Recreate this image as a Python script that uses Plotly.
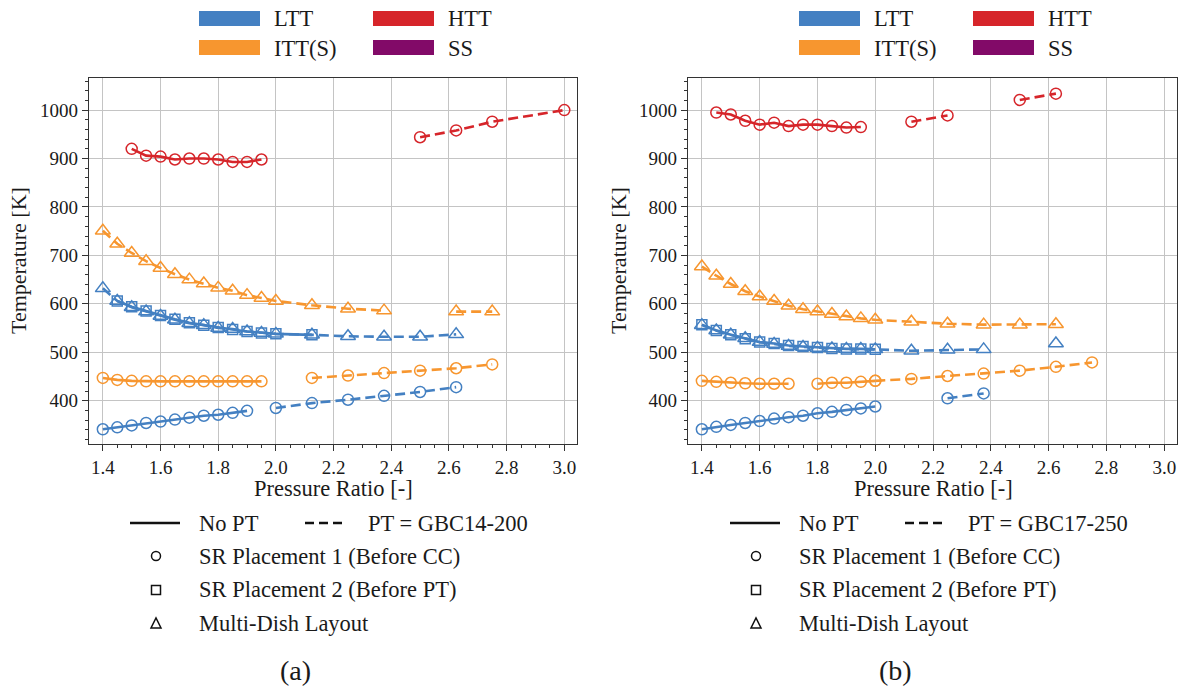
import plotly.graph_objects as go

W, H = 1181, 691
BLUE = '#4480C2'
RED = '#D6252A'
ORANGE = '#F7962F'
PURPLE = '#820A68'
FONT = '"Liberation Serif", "Times New Roman", "DejaVu Serif", serif'

# ---------------- data : panel (a)  PT = GBC14-200 ----------------
a_htt_solid_x = [1.5, 1.55, 1.6, 1.65, 1.7, 1.75, 1.8, 1.85, 1.9, 1.95]
a_htt_solid_y = [920, 906, 904, 898, 900, 900, 898, 893, 893, 898]
a_htt_dash_x = [2.5, 2.625, 2.75, 3.0]
a_htt_dash_y = [944, 958, 976, 1000]

a_itt_tri_x = [1.4, 1.45, 1.5, 1.55, 1.6, 1.65, 1.7, 1.75, 1.8, 1.85, 1.9, 1.95, 2.0,
               2.125, 2.25, 2.375, 2.5, 2.625, 2.75]
a_itt_tri_y = [751, 724, 705, 688, 674, 661, 650, 642, 633, 627, 618, 612, 606,
               597, 590, 586, None, 584, 584]

a_ltt_tri_x = [1.4, 1.45, 1.5, 1.55, 1.6, 1.65, 1.7, 1.75, 1.8, 1.85, 1.9, 1.95, 2.0,
               2.125, 2.25, 2.375, 2.5, 2.625]
a_ltt_tri_y = [632, 606, 593, 584, 575, 567, 560, 556, 550, 548, 543, 540, 538,
               536, 533, 532, 532, 537]
a_ltt_sq_x = [1.45, 1.5, 1.55, 1.6, 1.65, 1.7, 1.75, 1.8, 1.85, 1.9, 1.95, 2.0, 2.125]
a_ltt_sq_y = [606, 594, 585, 576, 568, 561, 556, 551, 547, 543, 540, 538, 536]

a_itt_circ_solid_x = [1.4, 1.45, 1.5, 1.55, 1.6, 1.65, 1.7, 1.75, 1.8, 1.85, 1.9, 1.95]
a_itt_circ_solid_y = [447, 443, 441, 440, 440, 440, 440, 440, 440, 440, 440, 440]
a_itt_circ_dash_x = [2.125, 2.25, 2.375, 2.5, 2.625, 2.75]
a_itt_circ_dash_y = [447, 452, 457, 462, 467, 475]

a_ltt_circ_solid_x = [1.4, 1.45, 1.5, 1.55, 1.6, 1.65, 1.7, 1.75, 1.8, 1.85, 1.9]
a_ltt_circ_solid_y = [341, 345, 349, 354, 357, 361, 365, 369, 371, 375, 379]
a_ltt_circ_dash_x = [2.0, 2.125, 2.25, 2.375, 2.5, 2.625]
a_ltt_circ_dash_y = [385, 395, 402, 410, 418, 428]

# ---------------- data : panel (b)  PT = GBC17-250 ----------------
b_htt_solid_x = [1.45, 1.5, 1.55, 1.6, 1.65, 1.7, 1.75, 1.8, 1.85, 1.9, 1.95]
b_htt_solid_y = [995, 991, 978, 970, 974, 967, 970, 970, 967, 964, 965]
b_htt_dash_x = [2.125, 2.25, 2.375, 2.5, 2.625]
b_htt_dash_y = [976, 989, None, 1021, 1034]

b_itt_tri_x = [1.4, 1.45, 1.5, 1.55, 1.6, 1.65, 1.7, 1.75, 1.8, 1.85, 1.9, 1.95, 2.0,
               2.125, 2.25, 2.375, 2.5, 2.625]
b_itt_tri_y = [677, 658, 641, 626, 615, 606, 596, 589, 584, 579, 574, 570, 567,
               563, 559, 557, 557, 558]

b_ltt_tri_x = [1.4, 1.45, 1.5, 1.55, 1.6, 1.65, 1.7, 1.75, 1.8, 1.85, 1.9, 1.95, 2.0,
               2.125, 2.25, 2.375, 2.5, 2.625]
b_ltt_tri_y = [556, 545, 536, 529, 521, 517, 513, 511, 509, 508, 507, 507, 506,
               503, 505, 506, None, 518]
b_ltt_sq_x = [1.4, 1.45, 1.5, 1.55, 1.6, 1.65, 1.7, 1.75, 1.8, 1.85, 1.9, 1.95, 2.0]
b_ltt_sq_y = [557, 545, 536, 528, 521, 518, 514, 512, 510, 508, 507, 507, 506]

b_itt_circ_solid_x = [1.4, 1.45, 1.5, 1.55, 1.6, 1.65, 1.7, 1.75, 1.8, 1.85, 1.9, 1.95, 2.0]
b_itt_circ_solid_y = [441, 439, 437, 436, 435, 435, 435, None, 435, 437, 437, 439, 441]
b_itt_circ_dash_x = [2.0, 2.125, 2.25, 2.375, 2.5, 2.625, 2.75]
b_itt_circ_dash_y = [441, 445, 451, 456, 462, 470, 479]

b_ltt_circ_solid_x = [1.4, 1.45, 1.5, 1.55, 1.6, 1.65, 1.7, 1.75, 1.8, 1.85, 1.9, 1.95, 2.0]
b_ltt_circ_solid_y = [341, 346, 350, 354, 358, 363, 366, 369, 374, 377, 381, 384, 388]
b_ltt_circ_dash_x = [2.25, 2.375]
b_ltt_circ_dash_y = [405, 415]

x_ticks = [1.4, 1.6, 1.8, 2.0, 2.2, 2.4, 2.6, 2.8, 3.0]
y_ticks = [400, 500, 600, 700, 800, 900, 1000]
top_legend = [('LTT', BLUE), ('HTT', RED), ('ITT(S)', ORANGE), ('SS', PURPLE)]
marker_legend = ['SR Placement 1 (Before CC)', 'SR Placement 2 (Before PT)', 'Multi-Dish Layout']
pt_labels = ['PT = GBC14-200', 'PT = GBC17-250']
panel_labels = ['(a)', '(b)']

DASH = '10px,5px'
fig = go.Figure()


def add(x, y, color, symbol, dashed, ax, size=11):
    fig.add_trace(go.Scatter(
        x=x, y=y, mode='lines+markers', xaxis=ax[0], yaxis=ax[1],
        line=dict(color=color, width=2.6, dash=DASH if dashed else 'solid'),
        marker=dict(symbol=symbol, size=size, color=color, line=dict(width=1.5, color=color)),
        connectgaps=False, showlegend=False, hoverinfo='x+y'))


A = ('x', 'y')
B = ('x2', 'y2')
# panel a
add(a_ltt_circ_solid_x, a_ltt_circ_solid_y, BLUE, 'circle-open', False, A)
add(a_ltt_circ_dash_x, a_ltt_circ_dash_y, BLUE, 'circle-open', True, A)
add(a_itt_circ_solid_x, a_itt_circ_solid_y, ORANGE, 'circle-open', False, A)
add(a_itt_circ_dash_x, a_itt_circ_dash_y, ORANGE, 'circle-open', True, A)
add(a_ltt_sq_x, a_ltt_sq_y, BLUE, 'square-open', False, A, 10)
add(a_ltt_tri_x, a_ltt_tri_y, BLUE, 'triangle-up-open', True, A, 13)
add(a_itt_tri_x, a_itt_tri_y, ORANGE, 'triangle-up-open', True, A, 13)
add(a_htt_solid_x, a_htt_solid_y, RED, 'circle-open', False, A)
add(a_htt_dash_x, a_htt_dash_y, RED, 'circle-open', True, A)
# panel b
add(b_ltt_circ_solid_x, b_ltt_circ_solid_y, BLUE, 'circle-open', False, B)
add(b_ltt_circ_dash_x, b_ltt_circ_dash_y, BLUE, 'circle-open', True, B)
add(b_itt_circ_solid_x, b_itt_circ_solid_y, ORANGE, 'circle-open', False, B)
add(b_itt_circ_dash_x, b_itt_circ_dash_y, ORANGE, 'circle-open', True, B)
add(b_ltt_sq_x, b_ltt_sq_y, BLUE, 'square-open', False, B, 10)
add(b_ltt_tri_x, b_ltt_tri_y, BLUE, 'triangle-up-open', True, B, 13)
add(b_itt_tri_x, b_itt_tri_y, ORANGE, 'triangle-up-open', True, B, 13)
add(b_htt_solid_x, b_htt_solid_y, RED, 'circle-open', False, B)
add(b_htt_dash_x, b_htt_dash_y, RED, 'circle-open', True, B)


def px(v):
    return v / W


def py(v):
    return 1 - v / H


axis_common = dict(
    showgrid=True, gridcolor='#c4c4c4', gridwidth=1.3,
    showline=True, linecolor='#333333', linewidth=1.4, mirror=True,
    ticks='outside', ticklen=6, tickwidth=1.2, tickcolor='#333333',
    tickfont=dict(family=FONT, size=19, color='#1a1a1a'),
    zeroline=False,
)
xr = [1.352, 3.044]
yr = [310.6, 1066.3]
ydom = [py(444), py(78)]
fig.update_layout(
    xaxis=dict(domain=[px(89), px(577)], range=xr, tickvals=x_ticks,
               ticktext=[f'{t:.1f}' for t in x_ticks], anchor='y',
               minor=dict(dtick=0.05, tick0=1.4, ticks='outside', ticklen=3, tickcolor='#333333', showgrid=False),
               **axis_common),
    yaxis=dict(domain=ydom, range=yr, tickvals=y_ticks, anchor='x',
               minor=dict(dtick=20, tick0=400, ticks='outside', ticklen=3, tickcolor='#333333', showgrid=False),
               **axis_common),
    xaxis2=dict(domain=[px(688), px(1177)], range=xr, tickvals=x_ticks,
                ticktext=[f'{t:.1f}' for t in x_ticks], anchor='y2',
                minor=dict(dtick=0.05, tick0=1.4, ticks='outside', ticklen=3, tickcolor='#333333', showgrid=False),
                **axis_common),
    yaxis2=dict(domain=ydom, range=yr, tickvals=y_ticks, anchor='x2',
                minor=dict(dtick=20, tick0=400, ticks='outside', ticklen=3, tickcolor='#333333', showgrid=False),
                **axis_common),
    width=W, height=H, margin=dict(l=0, r=0, t=0, b=0),
    paper_bgcolor='white', plot_bgcolor='white', showlegend=False,
    font=dict(family=FONT),
)

shapes = []
annotations = []
TXT = '#1a1a1a'


def text(x, y, s, size=22, xanchor='left', angle=0):
    annotations.append(dict(x=px(x), y=py(y), xref='paper', yref='paper', text=s,
                            showarrow=False, xanchor=xanchor, yanchor='middle', textangle=angle,
                            font=dict(family=FONT, size=size, color=TXT)))


for i, off in enumerate([0, 600]):
    # axis titles
    text(18 + off, 261, 'Temperature [K]', 22, 'center', -90)
    text(333 + off, 488, 'Pressure Ratio [-]', 22.5, 'center')
    # top legend patches
    pos = [(199, 11), (373, 11), (199, 40), (373, 40)]
    for (lab, col), (x0, y0) in zip(top_legend, pos):
        shapes.append(dict(type='rect', xref='paper', yref='paper',
                           x0=px(x0 + off), x1=px(x0 + 61 + off), y0=py(y0 + 15), y1=py(y0),
                           fillcolor=col, line=dict(width=0)))
        text(x0 + 73 + off, y0 + 8, lab, 22.5)
    # bottom legend
    shapes.append(dict(type='line', xref='paper', yref='paper', x0=px(130 + off), x1=px(180 + off),
                       y0=py(523), y1=py(523), line=dict(color='#111111', width=2.6)))
    shapes.append(dict(type='line', xref='paper', yref='paper', x0=px(305 + off), x1=px(347 + off),
                       y0=py(523), y1=py(523), line=dict(color='#111111', width=2.6, dash='9px,5px')))
    text(197 + off, 523, 'No PT', 22.5)
    text(366 + off, 523, pt_labels[i], 22.5)
    cx = 156 + off
    shapes.append(dict(type='circle', xref='paper', yref='paper', x0=px(cx - 4.5), x1=px(cx + 4.5),
                       y0=py(556 + 4.5), y1=py(556 - 4.5), line=dict(color='#111111', width=1.5)))
    shapes.append(dict(type='rect', xref='paper', yref='paper', x0=px(cx - 4.5), x1=px(cx + 4.5),
                       y0=py(590 + 4.5), y1=py(590 - 4.5), line=dict(color='#111111', width=1.5)))
    shapes.append(dict(type='path', xref='paper', yref='paper',
                       path=f'M {px(cx - 5)} {py(628)} L {px(cx + 5)} {py(628)} L {px(cx)} {py(618)} Z',
                       line=dict(color='#111111', width=1.5)))
    for j, lab in enumerate(marker_legend):
        text(197 + off, 556 + j * 33.5, lab, 22.5)
    text(295 + off, 670, panel_labels[i], 28, 'center')

fig.update_layout(shapes=shapes, annotations=annotations)
fig.write_html('out.html')
